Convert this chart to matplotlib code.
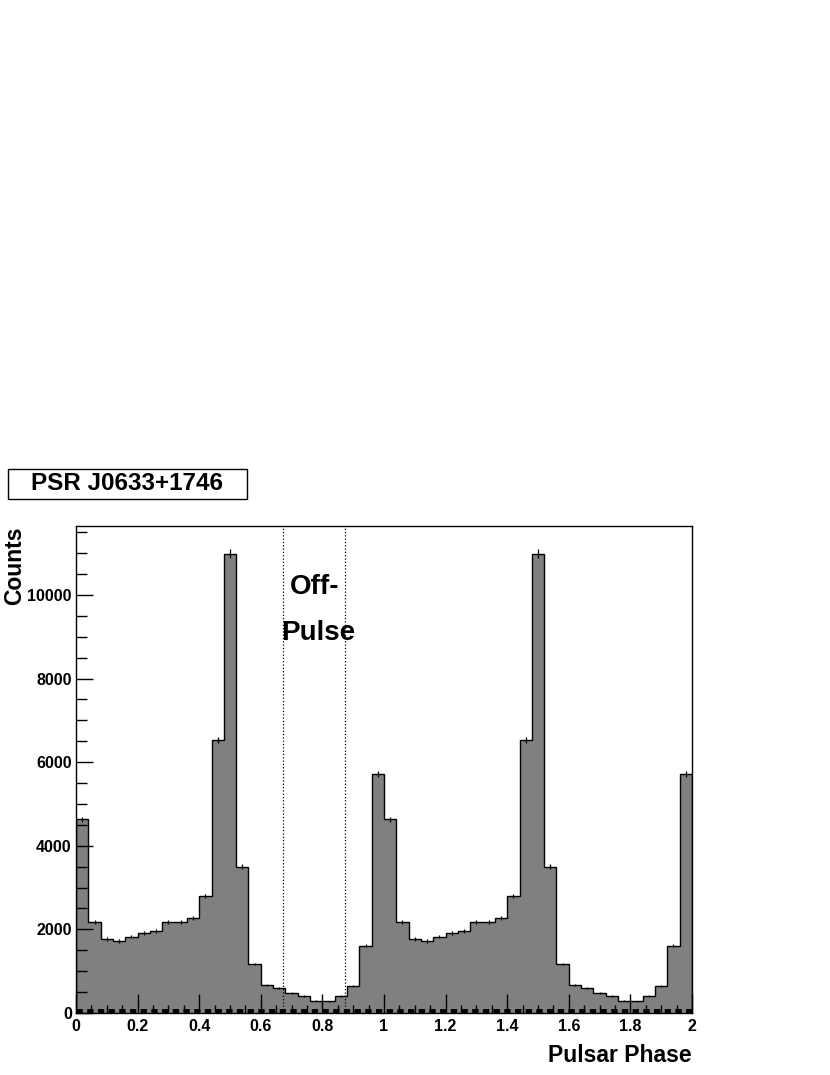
import matplotlib
matplotlib.use('Agg')
import matplotlib.pyplot as plt
import numpy as np

plt.rcParams['font.family'] = ['Liberation Sans', 'DejaVu Sans']
plt.rcParams['font.weight'] = 'bold'

# one pulsar phase, 25 bins of width 0.04 (drawn twice, phase 0-2)
counts_one_phase = [4630, 2180, 1765, 1725, 1825, 1915, 1960, 2170, 2185, 2280,
                    2805, 6530, 10990, 3495, 1170, 660, 590, 485, 405, 295,
                    280, 400, 655, 1610, 5710]
counts = np.array(counts_one_phase + counts_one_phase, dtype=float)
edges = np.linspace(0, 2, len(counts) + 1)
centers = 0.5 * (edges[:-1] + edges[1:])
background = 40
off_pulse = [0.672, 0.873]

fig = plt.figure(figsize=(8.3, 10.75), dpi=100)
ax = fig.add_axes([0.0916, 0.0577, 0.7421, 0.453])

ax.stairs(counts, edges, fill=True, color='#808080', zorder=1)
ax.stairs(counts, edges, color='black', linewidth=1.0, baseline=0, zorder=2)
ax.errorbar(centers, counts, yerr=np.sqrt(counts), fmt='none', ecolor='black',
            elinewidth=0.9, capsize=0, zorder=3)
ax.hlines(background, 0, 2, colors='black', linewidth=3.5,
          linestyles=(0, (1.3, 0.9)), zorder=4)

for xv in off_pulse:
    ax.axvline(xv, color='black', linestyle=':', linewidth=0.9, zorder=5)

ax.text(0.775, 10200, 'Off-', ha='center', va='center', fontsize=20, fontweight='bold')
ax.text(0.785, 9100, 'Pulse', ha='center', va='center', fontsize=20, fontweight='bold')

ax.set_xlim(0, 2)
ax.set_ylim(0, 11650)
ax.set_xticks(np.arange(0, 2.01, 0.2))
ax.set_xticklabels(['0', '0.2', '0.4', '0.6', '0.8', '1', '1.2', '1.4', '1.6', '1.8', '2'])
ax.set_xticks(np.arange(0, 2.001, 0.05), minor=True)
ax.set_yticks(np.arange(0, 10001, 2000))
ax.set_yticks(np.arange(0, 11650, 500), minor=True)
ax.tick_params(axis='both', which='both', direction='in', top=False, right=False,
               labelsize=11.5, width=1)
ax.tick_params(axis='x', which='major', length=14, pad=4)
ax.tick_params(axis='x', which='minor', length=6)
ax.tick_params(axis='y', which='major', length=12, pad=3)
ax.tick_params(axis='y', which='minor', length=8)
for lab in ax.get_xticklabels() + ax.get_yticklabels():
    lab.set_fontweight('bold')
for sp in ax.spines.values():
    sp.set_linewidth(1.0)

fig.text(692 / 830, 1 - 1055 / 1075, 'Pulsar Phase', ha='right', va='center',
         fontsize=16.5, fontweight='bold')
fig.text(15 / 830, 1 - 566 / 1075, 'Counts', ha='center', va='center', rotation=90,
         fontsize=16.5, fontweight='bold')
fig.text(127 / 830, 1 - 484 / 1075, 'PSR J0633+1746', ha='center', va='center',
         fontsize=17.5, fontweight='bold')
fig.patches.append(plt.Rectangle((8 / 830, 1 - 499 / 1075), 239 / 830, 30 / 1075,
                                 transform=fig.transFigure, fill=False,
                                 edgecolor='black', linewidth=1))

fig.savefig('out.png', dpi=100)
